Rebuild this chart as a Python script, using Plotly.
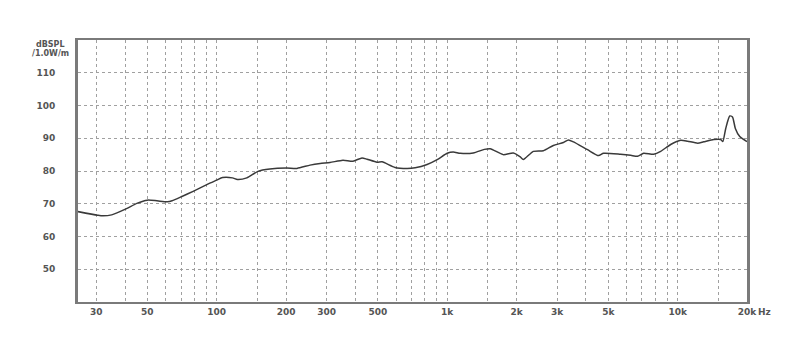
import plotly.graph_objects as go

freq_hz = [25, 30.4, 32, 35, 40.6, 45, 50, 55, 61, 64, 71, 79, 91, 100, 106, 117, 123, 135,
           151, 170, 201, 223, 254, 281, 310, 353, 390, 427, 449, 496, 522, 594, 670, 726,
           818, 905, 1000, 1062, 1140, 1298, 1450, 1538, 1750, 1936, 2076, 2139, 2364, 2614,
           2889, 3193, 3358, 3532, 4064, 4538, 4768, 5653, 6250, 6700, 7117, 7870, 8440,
           9330, 10310, 11050, 12210, 12970, 14350, 15380, 15700, 16170, 16830, 17300,
           17800, 18600, 19170, 20000]
spl_db = [67.6, 66.5, 66.3, 66.6, 68.5, 70.1, 71.1, 70.9, 70.6, 70.9, 72.3, 73.8, 75.9, 77.2,
          78.0, 77.9, 77.4, 77.9, 79.9, 80.6, 80.9, 80.8, 81.8, 82.3, 82.6, 83.3, 83.0, 84.0,
          83.6, 82.7, 82.8, 81.1, 80.8, 81.0, 82.0, 83.5, 85.4, 85.8, 85.4, 85.5, 86.6, 86.8,
          85.0, 85.5, 84.3, 83.5, 86.0, 86.2, 87.8, 88.7, 89.5, 88.9, 86.5, 84.7, 85.4, 85.1,
          84.8, 84.5, 85.4, 85.1, 86.0, 88.1, 89.4, 89.1, 88.5, 88.9, 89.6, 89.6, 89.0, 93.0,
          96.8, 96.5, 93.0, 90.5, 89.8, 89.0]

x_grid = [30, 40, 50, 60, 70, 80, 90, 100, 150, 200, 300, 400, 500, 600, 700, 800, 900,
          1000, 1500, 2000, 3000, 4000, 5000, 6000, 7000, 8000, 9000, 10000, 15000, 20000]
x_labels = {30: "30", 50: "50", 100: "100", 200: "200", 300: "300", 500: "500",
            1000: "1k", 2000: "2k", 3000: "3k", 5000: "5k", 10000: "10k", 20000: "20k"}
y_ticks = [50, 60, 70, 80, 90, 100, 110]

FONT = dict(family="DejaVu Sans", size=9, color="#555555")

fig = go.Figure()
fig.add_trace(go.Scatter(x=freq_hz, y=spl_db, mode="lines",
                         line=dict(color="#3a3a3a", width=1.5, shape="spline", smoothing=0.6),
                         hoverinfo="skip", showlegend=False))

L, R, T, B = 78, 53, 40, 57
W, H = 800, 359
pw = W - L - R
ph = H - T - B

fig.update_layout(
    width=W, height=H,
    margin=dict(l=L, r=R, t=T, b=B, pad=0),
    paper_bgcolor="white", plot_bgcolor="white",
    font=FONT,
    xaxis=dict(type="log", range=[1.398, 4.301],
               tickvals=x_grid, ticktext=[x_labels.get(v, "") for v in x_grid],
               tickangle=0,
               showgrid=True, gridcolor="#a0a0a0", griddash="dot", gridwidth=1,
               showline=True, linecolor="#7a7a7a", linewidth=2, mirror=True,
               ticks="", ticklabelstandoff=0, zeroline=False,
               tickfont=dict(family="DejaVu Sans", size=9, color="#555555", weight="bold")),
    yaxis=dict(range=[40, 120], tickvals=y_ticks, ticktext=[str(v) for v in y_ticks],
               showgrid=True, gridcolor="#a0a0a0", griddash="dot", gridwidth=1,
               showline=True, linecolor="#7a7a7a", linewidth=3, mirror=True,
               ticks="", ticklabelstandoff=18, zeroline=False,
               tickfont=dict(family="DejaVu Sans", size=9, color="#555555", weight="bold")),
)

def px_to_paper_x(px):
    return (px - L) / pw

def px_to_paper_y(py):
    return (H - B - py) / ph

fig.add_annotation(text="dBSPL", x=px_to_paper_x(50), y=px_to_paper_y(44), xref="paper", yref="paper",
                   showarrow=False, xanchor="center", yanchor="middle",
                   font=dict(family="DejaVu Sans", size=8, color="#555555", weight="bold"))
fig.add_annotation(text="/1.0W/m", x=px_to_paper_x(50), y=px_to_paper_y(53), xref="paper", yref="paper",
                   showarrow=False, xanchor="center", yanchor="middle",
                   font=dict(family="DejaVu Sans", size=8, color="#555555", weight="bold"))
fig.add_annotation(text="Hz", x=px_to_paper_x(756), y=px_to_paper_y(312), xref="paper", yref="paper",
                   showarrow=False, xanchor="left", yanchor="middle",
                   font=dict(family="DejaVu Sans", size=9, color="#555555", weight="bold"))

fig.write_html("out.html")
